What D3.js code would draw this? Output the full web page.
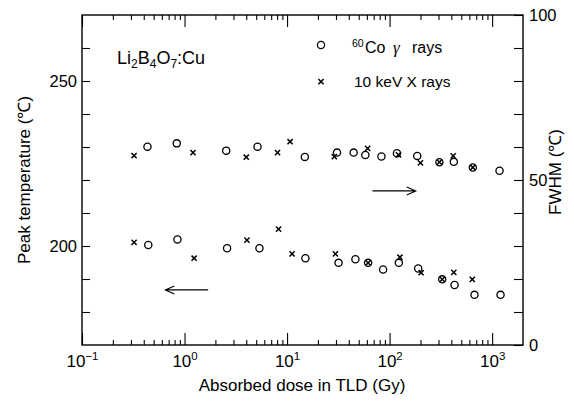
<!DOCTYPE html>
<html><head><meta charset="utf-8">
<script src="https://cdn.jsdelivr.net/npm/d3@7"></script>
<style>
body{margin:0;background:#fff;}
text{font-family:"Liberation Sans",Arial,Helvetica,sans-serif;fill:#000;}
</style></head>
<body><svg id="c" width="574" height="402"></svg>
<script>
// ---- data ----
const gammaFwhmDose = [0.435,0.84,2.55,5.15,14.9,30.7,44.6,58,83.2,118,186,306,423,648,1181];
const gammaFwhm     = [60.1,61.1,58.9,60.1,57.0,58.3,58.3,57.6,57.1,58.1,57.3,55.4,55.5,53.8,52.8];
const xrayFwhmDose  = [0.322,1.21,4.0,8.07,10.7,28.9,61.1,122,200,306,417,648];
const xrayFwhm      = [57.4,58.3,56.9,58.3,61.6,57.1,59.6,57.6,55.2,55.4,57.3,53.8];
const gammaPeakDose = [0.443,0.853,2.6,5.38,15.1,31.8,46.4,61.7,86.4,123,190,326,430,673,1208];
const gammaPeak     = [200.3,202.0,199.3,199.3,196.3,194.9,196.0,194.9,192.9,194.9,193.2,189.9,188.2,185.2,185.2];
const xrayPeakDose  = [0.322,1.24,4.06,8.26,11.2,29.6,61.7,126,203,326,423,640];
const xrayPeak      = [201.1,196.3,201.8,205.1,197.6,197.6,194.9,196.6,191.9,189.9,192.0,189.9];
const xMajorTicks = [0.1,1,10,100,1000];
const xMajorExp   = ["\u22121","0","1","2","3"];
const leftTicks  = [180,190,200,210,220,230,240,250,260];
const leftLabels = [200,250];
const rightTicks = [0,10,20,30,40,50,60,70,80,90,100];
const rightLabels= [0,50,100];

// ---- layout ----
const L=82,R=523,T=15,B=345;
const svg=d3.select("#c");
const x=d3.scaleLog().domain([0.1,2000]).range([L,R]);
const yL=d3.scaleLinear().domain([170,270]).range([B,T]);
const yR=d3.scaleLinear().domain([0,100]).range([B,T]);

const minor=[];
for(let e=-1;e<=3;e++){for(let m=2;m<=9;m++){const v=m*Math.pow(10,e); if(v<2000) minor.push(v);}}

function styleAxis(g){g.select(".domain").remove();g.selectAll("line").attr("stroke","#000").attr("stroke-width",1.1);}

// bottom axes
svg.append("g").attr("transform",`translate(0,${B})`)
  .call(d3.axisBottom(x).tickValues(minor).tickSize(-5).tickFormat("")).call(styleAxis);
const bx=svg.append("g").attr("transform",`translate(0,${B})`)
  .call(d3.axisBottom(x).tickValues(xMajorTicks).tickSize(-12).tickPadding(8).tickFormat("")).call(styleAxis);
bx.selectAll(".tick text").each(function(d,i){
  const t=d3.select(this).attr("font-size",17).attr("y",22).attr("dy",null).attr("text-anchor","middle");
  t.text("");
  t.append("tspan").text("10");
  t.append("tspan").attr("font-size",11.5).attr("dy",-7).text(xMajorExp[i]);
});
// top axes
svg.append("g").attr("transform",`translate(0,${T})`)
  .call(d3.axisTop(x).tickValues(minor).tickSize(-5).tickFormat("")).call(styleAxis);
svg.append("g").attr("transform",`translate(0,${T})`)
  .call(d3.axisTop(x).tickValues(xMajorTicks).tickSize(-12).tickFormat("")).call(styleAxis);

// left axis
const la=svg.append("g").attr("transform",`translate(${L},0)`)
  .call(d3.axisLeft(yL).tickValues(leftTicks).tickSize(-8).tickPadding(5)
    .tickFormat(d=>leftLabels.includes(d)?d:"")).call(styleAxis);
la.selectAll("text").attr("font-size",16.5);
// right axis
const ra=svg.append("g").attr("transform",`translate(${R},0)`)
  .call(d3.axisRight(yR).tickValues(rightTicks).tickSize(-9).tickPadding(6)
    .tickFormat(d=>rightLabels.includes(d)?d:"")).call(styleAxis);
ra.selectAll("text").attr("font-size",16.5);

// frame
svg.append("rect").attr("x",L).attr("y",T).attr("width",R-L).attr("height",B-T)
  .attr("fill","none").attr("stroke","#000").attr("stroke-width",1.4);

// markers
function circles(xs,ys,sy){
  svg.append("g").selectAll("circle").data(xs).join("circle")
    .attr("cx",d=>x(d)).attr("cy",(d,i)=>sy(ys[i])).attr("r",3.6)
    .attr("fill","none").attr("stroke","#000").attr("stroke-width",1.3);
}
function crosses(xs,ys,sy){
  const s=2.6;
  svg.append("g").selectAll("path").data(xs).join("path")
    .attr("d",(d,i)=>{const cx=x(d),cy=sy(ys[i]);return `M${cx-s},${cy-s}L${cx+s},${cy+s}M${cx-s},${cy+s}L${cx+s},${cy-s}`;})
    .attr("stroke","#000").attr("stroke-width",1.5).attr("fill","none");
}
circles(gammaFwhmDose,gammaFwhm,yR);
crosses(xrayFwhmDose,xrayFwhm,yR);
circles(gammaPeakDose,gammaPeak,yL);
crosses(xrayPeakDose,xrayPeak,yL);

// arrows
function arrow(x1,x2,y){
  const dir=Math.sign(x2-x1);
  svg.append("path").attr("d",`M${x1},${y}L${x2},${y}M${x2-dir*9},${y-4}L${x2},${y}L${x2-dir*9},${y+4}`)
    .attr("stroke","#000").attr("stroke-width",1.1).attr("fill","none");
}
arrow(x(68),x(180),yR(46.7));
arrow(x(1.7),x(0.65),yL(186.7));

// axis titles
svg.append("text").attr("x",302).attr("y",391).attr("text-anchor","middle").attr("font-size",17)
  .text("Absorbed dose in TLD (Gy)");
svg.append("text").attr("transform","translate(30,180) rotate(-90)").attr("text-anchor","middle").attr("font-size",17)
  .text("Peak temperature (℃)");
svg.append("text").attr("transform","translate(561,172) rotate(-90)").attr("text-anchor","middle").attr("font-size",17)
  .text("FWHM (℃)");

// compound label
const cl=svg.append("text").attr("x",117).attr("y",64).attr("font-size",18);
[["Li",0],["2",1],["B",0],["4",1],["O",0],["7",1],[":Cu",0]].forEach(([s,sub],i,arr)=>{
  const prevSub=i>0?arr[i-1][1]:0;
  const dy = sub? 4 : (prevSub? -4:0);
  cl.append("tspan").attr("font-size",sub?12:18).attr("dy",dy).text(s);
});

// legend
svg.append("circle").attr("cx",321).attr("cy",45).attr("r",3.6).attr("fill","none").attr("stroke","#000").attr("stroke-width",1.3);
svg.append("path").attr("d","M318.4,79L323.6,84.2M318.4,84.2L323.6,79").attr("stroke","#000").attr("stroke-width",1.5);
const l1=svg.append("text").attr("x",352).attr("y",53).attr("font-size",16);
l1.append("tspan").attr("font-size",10.5).attr("dy",-6).text("60");
l1.append("tspan").attr("x",365).attr("dy",6).text("Co");
l1.append("tspan").attr("x",393).attr("font-style","italic").attr("font-family","Liberation Serif, serif").attr("font-size",17).text("\u03b3");
l1.append("tspan").attr("x",412).text("rays");
svg.append("text").attr("x",354).attr("y",87).attr("font-size",15.5).text("10 keV X rays");
</script></body></html>
